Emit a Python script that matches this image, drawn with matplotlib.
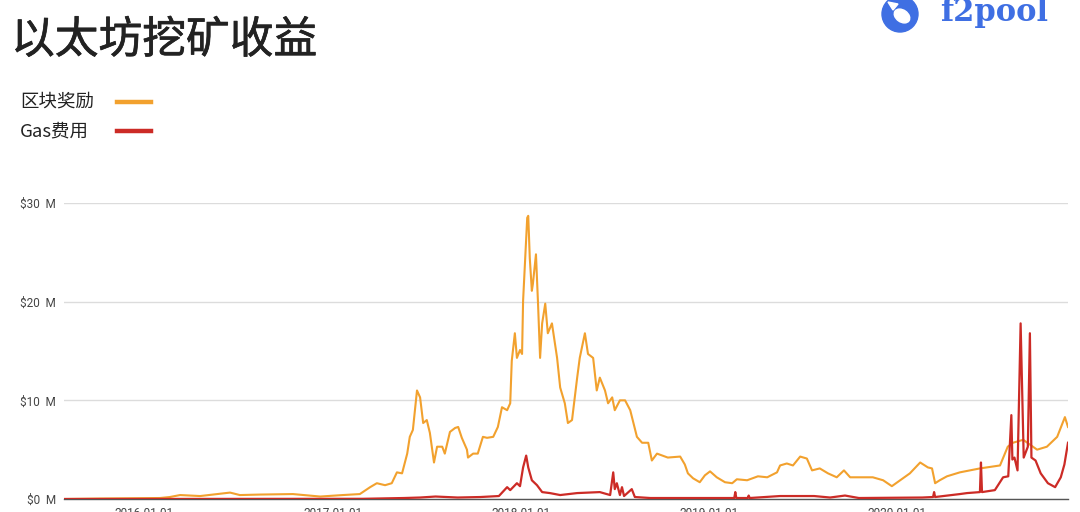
import matplotlib
matplotlib.use("Agg")
import matplotlib.pyplot as plt
import matplotlib.patches as mpatches
import matplotlib.patheffects as pe
import pandas as pd

plt.rcParams['font.family'] = ['Noto Sans CJK SC', 'DejaVu Sans']

# ---------------- data (USD millions) ----------------
block_dates = [
    "2015-07-30", "2015-10-08", "2016-02-01", "2016-02-20", "2016-03-11", "2016-04-19",
    "2016-05-22", "2016-06-16", "2016-07-05", "2016-08-13", "2016-10-16", "2016-12-08",
    "2017-01-21", "2017-02-23", "2017-03-15", "2017-03-28", "2017-04-13", "2017-04-26",
    "2017-05-06", "2017-05-16", "2017-05-26", "2017-05-31", "2017-06-06", "2017-06-14",
    "2017-06-20", "2017-06-26", "2017-07-03", "2017-07-09", "2017-07-17", "2017-07-23",
    "2017-08-02", "2017-08-07", "2017-08-17", "2017-08-27", "2017-09-02", "2017-09-09",
    "2017-09-19", "2017-09-21", "2017-10-01", "2017-10-10", "2017-10-20", "2017-10-28",
    "2017-11-09", "2017-11-18", "2017-11-26", "2017-12-06", "2017-12-12", "2017-12-15",
    "2017-12-21", "2017-12-25", "2017-12-31", "2018-01-04", "2018-01-06", "2018-01-14",
    "2018-01-16", "2018-01-19", "2018-01-23", "2018-01-25", "2018-01-31", "2018-02-04",
    "2018-02-08", "2018-02-12", "2018-02-18", "2018-02-23", "2018-03-03", "2018-03-13",
    "2018-03-19", "2018-03-28", "2018-04-03", "2018-04-11", "2018-04-21", "2018-04-26",
    "2018-05-06", "2018-05-12", "2018-05-22", "2018-05-29", "2018-06-04", "2018-06-14",
    "2018-06-20", "2018-06-28", "2018-07-03", "2018-07-13", "2018-07-23", "2018-08-02",
    "2018-08-15", "2018-08-25", "2018-09-06", "2018-09-13", "2018-09-23", "2018-10-14",
    "2018-11-07", "2018-11-16", "2018-11-22", "2018-12-02", "2018-12-15", "2018-12-25",
    "2019-01-04", "2019-01-17", "2019-02-02", "2019-02-16", "2019-02-25", "2019-03-17",
    "2019-04-07", "2019-04-25", "2019-05-14", "2019-05-20", "2019-06-02", "2019-06-14",
    "2019-06-28", "2019-07-11", "2019-07-21", "2019-08-05", "2019-08-21", "2019-09-07",
    "2019-09-21", "2019-10-03", "2019-10-28", "2019-11-16", "2019-12-06", "2019-12-23",
    "2020-01-08", "2020-01-27", "2020-02-16", "2020-03-02", "2020-03-10", "2020-03-16",
    "2020-03-25", "2020-04-08", "2020-05-03", "2020-06-11", "2020-07-20", "2020-08-04",
    "2020-08-14", "2020-09-03", "2020-09-30", "2020-10-19", "2020-11-08", "2020-11-23",
    "2020-11-29",
]
block_reward = [
    0.0, 0.05, 0.1, 0.2, 0.4, 0.3,
    0.5, 0.65, 0.4, 0.45, 0.5, 0.25,
    0.4, 0.5, 1.2, 1.6, 1.4, 1.6,
    2.7, 2.6, 4.6, 6.3, 7.0, 11.0,
    10.3, 7.7, 8.0, 6.7, 3.7, 5.3,
    5.3, 4.6, 6.8, 7.2, 7.3, 6.2,
    5.0, 4.2, 4.6, 4.6, 6.3, 6.2,
    6.3, 7.3, 9.3, 9.0, 9.7, 14.0,
    16.8, 14.3, 15.1, 14.7, 20.1, 28.5,
    28.7, 24.4, 21.1, 21.8, 24.8, 19.8,
    14.3, 17.8, 19.8, 16.8, 17.8, 14.3,
    11.3, 9.7, 7.7, 8.0, 12.3, 14.3,
    16.8, 14.7, 14.3, 11.0, 12.3, 11.0,
    9.7, 10.3, 9.0, 10.0, 10.0, 9.0,
    6.3, 5.7, 5.7, 3.9, 4.6, 4.2,
    4.3, 3.5, 2.6, 2.1, 1.7, 2.4,
    2.8, 2.2, 1.7, 1.6, 2.0, 1.9,
    2.3, 2.2, 2.7, 3.4, 3.6, 3.4,
    4.3, 4.1, 2.9, 3.1, 2.6, 2.2,
    2.9, 2.2, 2.2, 2.2, 1.9, 1.3,
    1.9, 2.6, 3.7, 3.2, 3.1, 1.6,
    1.9, 2.3, 2.7, 3.1, 3.4, 5.3,
    5.7, 6.0, 5.0, 5.3, 6.3, 8.3,
    7.3,
]

gas_dates = [
    "2015-07-30", "2017-03-01", "2017-05-20", "2017-06-20", "2017-07-20", "2017-09-01",
    "2017-10-15", "2017-11-20", "2017-12-06", "2017-12-12", "2017-12-25", "2017-12-31",
    "2018-01-06", "2018-01-12", "2018-01-16", "2018-01-23", "2018-02-02", "2018-02-12",
    "2018-02-27", "2018-03-19", "2018-04-21", "2018-06-04", "2018-06-24", "2018-06-30",
    "2018-07-03", "2018-07-07", "2018-07-13", "2018-07-17", "2018-07-21", "2018-08-05",
    "2018-08-11", "2018-09-10", "2018-12-15", "2019-02-20", "2019-02-22", "2019-02-24",
    "2019-03-18", "2019-03-20", "2019-03-22", "2019-05-20", "2019-07-25", "2019-08-25",
    "2019-09-23", "2019-10-20", "2020-02-20", "2020-03-12", "2020-03-14", "2020-03-16",
    "2020-05-03", "2020-05-17", "2020-06-11", "2020-06-13", "2020-06-15", "2020-07-10",
    "2020-07-26", "2020-08-05", "2020-08-11", "2020-08-13", "2020-08-17", "2020-08-23",
    "2020-08-29", "2020-09-04", "2020-09-12", "2020-09-16", "2020-09-19", "2020-09-27",
    "2020-10-07", "2020-10-21", "2020-11-04", "2020-11-15", "2020-11-22", "2020-11-29",
]
gas_fee = [
    0.0, 0.02, 0.1, 0.15, 0.25, 0.15,
    0.2, 0.3, 1.2, 0.9, 1.6, 1.3,
    3.2, 4.4, 3.2, 1.9, 1.4, 0.7,
    0.6, 0.4, 0.6, 0.7, 0.4, 2.7,
    1.0, 1.6, 0.4, 1.2, 0.3, 1.0,
    0.2, 0.1, 0.1, 0.1, 0.7, 0.1,
    0.1, 0.35, 0.1, 0.3, 0.3, 0.15,
    0.35, 0.1, 0.15, 0.2, 0.7, 0.2,
    0.5, 0.6, 0.7, 3.7, 0.7, 0.9,
    2.2, 2.3, 8.5, 4.0, 4.2, 2.9,
    17.8, 4.2, 5.3, 16.8, 4.2, 3.9,
    2.6, 1.6, 1.2, 2.2, 3.5, 5.7,
]

y_ticks = [0, 10, 20, 30]
y_labels = ["$0  M", "$10  M", "$20  M", "$30  M"]
x_ticks = ["2016-01-01", "2017-01-01", "2018-01-01", "2019-01-01", "2020-01-01"]

title = "以太坊挖矿收益"
series_names = ["区块奖励", "Gas费用"]
ORANGE = "#F2A12E"
RED = "#CC2B26"

# ---------------- figure ----------------
W, H = 1080, 512
fig = plt.figure(figsize=(W / 100, H / 100), dpi=100)
fig.patch.set_facecolor("white")

ax = fig.add_axes([64.2 / W, 13 / H, (1068 - 64.2) / W, (499 - 203) / H])
ax.set_facecolor("white")

bd = pd.to_datetime(block_dates)
gd = pd.to_datetime(gas_dates)
ax.plot(bd, block_reward, color=ORANGE, lw=1.5, zorder=3, solid_joinstyle="round")
ax.plot(gd, gas_fee, color=RED, lw=1.6, zorder=4, solid_joinstyle="round")

ax.set_xlim(pd.Timestamp("2015-07-30"), pd.Timestamp("2020-11-29"))
ax.set_ylim(0, 30)

for s in ["top", "right", "left"]:
    ax.spines[s].set_visible(False)
ax.spines["bottom"].set_color("#555555")
ax.spines["bottom"].set_linewidth(1.0)
ax.spines["bottom"].set_zorder(2)

ax.set_yticks(y_ticks)
ax.set_yticklabels(y_labels)
ax.yaxis.grid(True, color="#dcdcdc", lw=1.0)
ax.set_axisbelow(True)
ax.set_xticks(pd.to_datetime(x_ticks))
ax.set_xticklabels(x_ticks)
ax.tick_params(axis="both", length=0, labelsize=8.5, labelcolor="#444444")
ax.tick_params(axis="y", pad=6)
ax.tick_params(axis="x", pad=6)
for lab in ax.get_yticklabels() + ax.get_xticklabels():
    lab.set_family(["Roboto", "DejaVu Sans"])

# ---------------- title ----------------
fig.text(11 / W, 1 - 40 / H, title, fontsize=31.5, color="#222222",
         ha="left", va="center",
         path_effects=[pe.withStroke(linewidth=0.5, foreground="#222222")])

# ---------------- legend ----------------
for i, (name, col) in enumerate(zip(series_names, [ORANGE, RED])):
    yy = 1 - (102 + 29 * i) / H
    fig.text(20 / W, yy, name, fontsize=13.3, color="#222222", ha="left", va="center")
    fig.add_artist(plt.Line2D([117 / W, 151 / W], [yy, yy], color=col, lw=3.2,
                              transform=fig.transFigure))

# ---------------- logo ----------------
BLUE = "#3F6FE3"
cx, cy, r = 900, 14, 18
circ = mpatches.Circle((cx / 100, (H - cy) / 100), r / 100,
                       transform=fig.dpi_scale_trans, color=BLUE, zorder=5)
fig.add_artist(circ)
fish = mpatches.Ellipse(((cx + 2) / 100, (H - cy - 2) / 100), 17 / 100, 12 / 100,
                        angle=-35, transform=fig.dpi_scale_trans, color="white", zorder=6)
fig.add_artist(fish)
tail = mpatches.Polygon([((cx - 7) / 100, (H - cy + 4) / 100),
                         ((cx - 12) / 100, (H - cy + 12) / 100),
                         ((cx - 2) / 100, (H - cy + 10) / 100)],
                        closed=True, transform=fig.dpi_scale_trans, color="white", zorder=6)
fig.add_artist(tail)
fig.text(940 / W, 1 - 13 / H, "f2pool", fontsize=22, color=BLUE, ha="left", va="center",
         family=["DejaVu Serif"], fontweight="bold")

fig.savefig("out.png", dpi=100, facecolor="white")
